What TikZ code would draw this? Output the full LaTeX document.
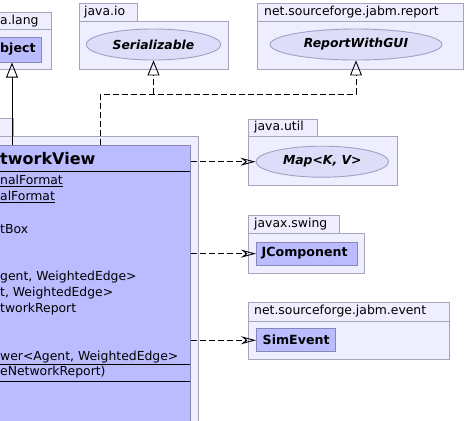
\documentclass[tikz,border=0pt]{standalone}
\usepackage{fontspec}
\setmainfont{DejaVu Sans}
\usetikzlibrary{arrows.meta,shapes.geometric}
\definecolor{pkgbg}{HTML}{EEEEFF}
\definecolor{pkgline}{HTML}{A4A4BC}
\definecolor{clsbg}{HTML}{BBBBFF}
\definecolor{clsline}{HTML}{8888B8}
\definecolor{ovalbg}{HTML}{DDDDFA}
\definecolor{ovalline}{HTML}{A0A0C4}
\tikzset{pkg/.style={rectangle,draw=pkgline,fill=pkgbg,line width=.9pt,inner sep=0,anchor=north west},
         cls/.style={rectangle,draw=clsline,fill=clsbg,line width=.9pt,inner sep=0,anchor=north west},
         oval/.style={ellipse,draw=ovalline,fill=ovalbg,line width=.9pt,inner sep=0,
                      font=\fontsize{12.4}{14}\selectfont\bfseries\itshape},
         lbl/.style={font=\fontsize{12.4}{14}\selectfont,anchor=west,inner sep=0},
         nm/.style={font=\fontsize{12.6}{14}\selectfont\bfseries,anchor=west,inner sep=0},
         head/.style={font=\fontsize{16}{18}\selectfont\bfseries,anchor=west,inner sep=0},
         sep/.style={line width=.9pt},
         ext/.style={-{Triangle[open,length=15pt,width=12pt]},line width=.9pt},
         impl/.style={ext,dash pattern=on 6pt off 3pt},
         dep/.style={-{Stealth[open,length=15pt,width=8pt,inset=5pt]},line width=.9pt,dash pattern=on 6pt off 3pt}}

\begin{document}
\begin{tikzpicture}[x=1pt,y=-1pt]
  \useasboundingbox (0,0) rectangle (467,421);
  \clip (0,0) rectangle (467,421);
  % java.lang
  \node[pkg,minimum width=70,minimum height=17.3] (langtab) at (-19,12) {};
  \node[pkg,minimum width=70,minimum height=39.7] (lang) at (-19,29.3) {};
  \node[cls,minimum width=59.7,minimum height=24.4] (obj) at (-19,37.3) {};
  \node[lbl] (langname) at (0,20.6) {a.lang};
  \node[nm] (objname) at (0,49.5) {bject};
  % java.io
  \node[pkg,minimum width=58.6,minimum height=17.7] (iotab) at (78.7,3) {};
  \node[pkg,minimum width=149.6,minimum height=48.6] (io) at (78.7,20.7) {};
  \node[lbl] (ioname) at (84,12) {java.io};
  \node[oval,minimum width=134.7,minimum height=31] (ser) at (153.5,44.5) {Serializable};
  % net.sourceforge.jabm.report
  \node[pkg,minimum width=206,minimum height=17.7] (reptab) at (257.3,3) {};
  \node[pkg,minimum width=206,minimum height=48.6] (report) at (257.3,20.7) {};
  \node[lbl] (repname) at (264,12) {net.sourceforge.jabm.report};
  \node[oval,minimum width=172,minimum height=31] (gui) at (356,44.5) {ReportWithGUI};
  % java.util
  \node[pkg,minimum width=68.4,minimum height=16.7] (utiltab) at (248.3,119.3) {};
  \node[pkg,minimum width=148.4,minimum height=49.3] (util) at (248.3,136) {};
  \node[lbl] (utilname) at (254,127.5) {java.util};
  \node[oval,minimum width=132.7,minimum height=31] (map) at (322.3,161.7) {Map<K, V>};
  % javax.swing
  \node[pkg,minimum width=91,minimum height=18] (swingtab) at (248.3,215.3) {};
  \node[pkg,minimum width=116,minimum height=39.4] (swing) at (248.3,233.3) {};
  \node[lbl] (swingname) at (254,224.5) {javax.swing};
  \node[cls,minimum width=100.7,minimum height=23] (jc) at (256,241.7) {};
  \node[nm] (jcname) at (261.5,253.2) {JComponent};
  % net.sourceforge.jabm.event
  \node[pkg,minimum width=201,minimum height=18.4] (evtab) at (248.3,302.3) {};
  \node[pkg,minimum width=201,minimum height=38.6] (event) at (248.3,320.7) {};
  \node[lbl] (evname) at (254,311.5) {net.sourceforge.jabm.event};
  \node[cls,minimum width=78.7,minimum height=23] (sim) at (256,328.3) {};
  \node[nm] (simname) at (262.5,339.8) {SimEvent};
  % the network view class
  \node[pkg,minimum width=52.7,minimum height=17.7] (nvtab) at (-40,118.3) {};
  \node[pkg,minimum width=238.3,minimum height=320] (nvpkg) at (-40,136) {};
  \node[cls,minimum width=230.3,minimum height=320] (nv) at (-40,145) {};
  \node[head] (nvname) at (0,158.5) {tworkView};
  \draw[sep] (-40,171.3) -- (190.3,171.3);
  \node[lbl] (m1) at (0,181) {\underline{nalFormat}};
  \node[lbl] (m2) at (0,197) {\underline{alFormat}};
  \node[lbl] (m3) at (0,229) {tBox};
  \node[lbl] (m4) at (0,277) {gent, WeightedEdge>};
  \node[lbl] (m5) at (0,293) {t, WeightedEdge>};
  \node[lbl] (m6) at (0,309) {tworkReport};
  \node[lbl] (m7) at (0,357) {wer<Agent, WeightedEdge>};
  \draw[sep] (-40,364.3) -- (190.3,364.3);
  \node[lbl] (m8) at (0,372.5) {eNetworkReport)};
  \draw[sep] (-40,381) -- (190.3,381);
  % connectors
  \coordinate (objfoot) at (12,145);
  \coordinate (nvtop) at (100.7,145);
  \coordinate (split) at (100.7,94);
  \draw[ext] (objfoot) -- (objfoot |- obj.south);
  \draw[impl] (nvtop) -- (split) -| (gui.south);
  \draw[impl] (split -| ser.south) -- (ser.south);
  \draw[dep] (nv.east |- map.west) -- (map.west);
  \draw[dep] (nv.east |- jc.west) -- (jc.west);
  \draw[dep] (nv.east |- sim.west) -- (sim.west);
\end{tikzpicture}
\end{document}
